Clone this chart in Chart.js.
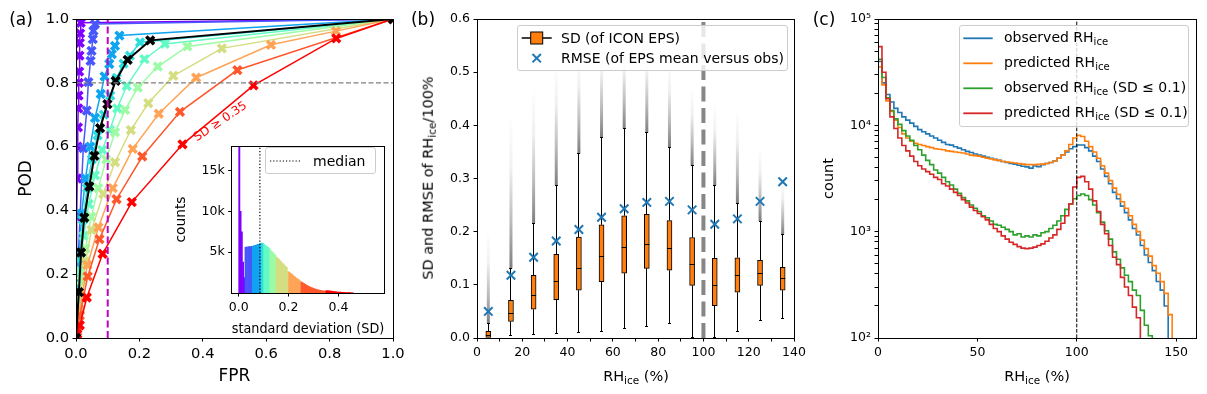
<!DOCTYPE html>
<html>
<head>
<meta charset="utf-8">
<title>ROC, spread and RHice histograms</title>
<script src="https://cdn.jsdelivr.net/npm/chart.js@4.4.1/dist/chart.umd.min.js"></script>
<style>
  body { margin: 0; background: #fff; }
  #fig { position: relative; width: 1207px; height: 394px; overflow: hidden; font-family: 'DejaVu Sans', sans-serif; color: #000; }
  #fig canvas { position: absolute; }
  .txt { position: absolute; white-space: nowrap; line-height: 1; transform: translate(-50%, -50%); }
  .lbl { position: absolute; white-space: nowrap; line-height: 1; font-size: 14px; transform: translateY(-50%); }
  .sub { font-size: 72%; position: relative; top: 0.3em; }
  .legend { position: absolute; box-sizing: border-box; background: rgba(255,255,255,0.8); border: 1px solid #cccccc; border-radius: 3px; }
  .handle { position: absolute; }
</style>
</head>
<body>
<div id="fig">
  <canvas id="rocChart" width="415" height="394" style="left:0;top:0"></canvas>
  <canvas id="sdHist" width="230" height="205" style="left:165px;top:135px"></canvas>
  <canvas id="boxChart" width="415" height="394" style="left:400px;top:0"></canvas>
  <canvas id="countChart" width="407" height="394" style="left:800px;top:0"></canvas>

  <div class="txt" style="left:21px;top:19px;font-size:17px">(a)</div>
  <div class="txt" style="left:423px;top:19px;font-size:17px">(b)</div>
  <div class="txt" style="left:824px;top:19px;font-size:17px">(c)</div>

  <div class="txt" style="left:220px;top:121px;font-size:12px;color:#ff0000;transform:translate(-50%,-50%) rotate(-34deg)">SD ≥ 0.35</div>

  <!-- inset legend -->
  <div class="legend" style="left:265px;top:147px;width:111px;height:27px"></div>
  <svg class="handle" style="left:265px;top:147px" width="40" height="27">
    <line x1="5" y1="14" x2="35" y2="14" stroke="#000" stroke-width="1.2" stroke-dasharray="1.2,2"/>
  </svg>
  <div class="lbl" style="left:313px;top:161px">median</div>

  <!-- panel (b) labels and legend -->
  <div class="txt" style="left:428px;top:178px;font-size:14.5px;transform:translate(-50%,-50%) rotate(-90deg)">SD and RMSE of RH<span class="sub">ice</span>/100%</div>
  <div class="txt" style="left:636px;top:376px;font-size:14.5px">RH<span class="sub">ice</span> (%)</div>
  <div class="legend" style="left:517px;top:25px;width:271px;height:46px"></div>
  <svg class="handle" style="left:517px;top:25px" width="40" height="46">
    <line x1="4.7" y1="13" x2="34.7" y2="13" stroke="#000" stroke-width="1.5"/>
    <rect x="13.7" y="7" width="12" height="12" fill="#ff7f0e" stroke="#000" stroke-width="1"/>
    <path d="M15.5 29 L23.9 37.4 M23.9 29 L15.5 37.4" stroke="#1f77b4" stroke-width="2" fill="none"/>
  </svg>
  <div class="lbl" style="left:561px;top:38px">SD (of ICON EPS)</div>
  <div class="lbl" style="left:561px;top:58px">RMSE (of EPS mean versus obs)</div>

  <!-- panel (c) labels and legend -->
  <div class="txt" style="left:1037px;top:376px;font-size:14.5px">RH<span class="sub">ice</span> (%)</div>
  <div class="legend" style="left:959px;top:25px;width:230px;height:102px"></div>
  <svg class="handle" style="left:959px;top:25px" width="40" height="102">
    <line x1="4.3" y1="13.3" x2="33.7" y2="13.3" stroke="#1f77b4" stroke-width="1.8"/>
    <line x1="4.3" y1="38.3" x2="33.7" y2="38.3" stroke="#ff7f0e" stroke-width="1.8"/>
    <line x1="4.3" y1="63.3" x2="33.7" y2="63.3" stroke="#2ca02c" stroke-width="1.8"/>
    <line x1="4.3" y1="88.3" x2="33.7" y2="88.3" stroke="#d62728" stroke-width="1.8"/>
  </svg>
  <div class="lbl" style="left:1004px;top:37px">observed RH<span class="sub">ice</span></div>
  <div class="lbl" style="left:1004px;top:62px">predicted RH<span class="sub">ice</span></div>
  <div class="lbl" style="left:1004px;top:87px">observed RH<span class="sub">ice</span> (SD ≤ 0.1)</div>
  <div class="lbl" style="left:1004px;top:112px">predicted RH<span class="sub">ice</span> (SD ≤ 0.1)</div>
</div>

<script>
// ---- (a) ROC curves: [FPR, POD] per SD bin, low SD (violet) to high SD (red), plus all data ----
const rocAll = [[0,0],[0.009,0.144],[0.016,0.268],[0.026,0.377],[0.042,0.475],[0.058,0.571],[0.076,0.658],[0.099,0.733],[0.125,0.806],[0.163,0.872],[0.234,0.933],[1,1]];
const rocSd1 = [[0,0],[0.002,0.38],[0.004,0.5],[0.005,0.6],[0.006,0.66],[0.007,0.72],[0.008,0.76],[0.009,0.8],[0.01,0.835],[0.011,0.885],[0.012,0.925],[0.013,0.955],[0.015,0.988],[1,1]];
const rocSd2 = [[0,0],[0.003,0.14],[0.008,0.27],[0.013,0.386],[0.023,0.595],[0.034,0.713],[0.039,0.802],[0.046,0.869],[0.049,0.9],[0.053,0.937],[0.055,0.963],[0.06,0.984],[1,1]];
const rocSd3 = [[0,0],[0.004,0.12],[0.01,0.26],[0.018,0.39],[0.03,0.5],[0.045,0.6],[0.06,0.69],[0.078,0.765],[0.09,0.82],[0.105,0.859],[0.113,0.89],[0.123,0.916],[0.137,0.948],[1,1]];
const rocSd4 = [[0,0],[0.005,0.12],[0.012,0.25],[0.022,0.37],[0.035,0.47],[0.05,0.56],[0.068,0.635],[0.088,0.7],[0.108,0.76],[0.128,0.815],[0.15,0.86],[0.17,0.885],[0.202,0.927],[1,1]];
const rocSd5 = [[0,0],[0.005,0.1],[0.012,0.21],[0.024,0.32],[0.04,0.42],[0.06,0.51],[0.083,0.59],[0.107,0.652],[0.13,0.72],[0.16,0.79],[0.216,0.874],[0.28,0.922],[1,1]];
const rocSd6 = [[0,0],[0.006,0.08],[0.016,0.18],[0.03,0.28],[0.048,0.38],[0.07,0.47],[0.095,0.56],[0.123,0.645],[0.155,0.715],[0.195,0.785],[0.258,0.851],[0.351,0.914],[1,1]];
const rocSd7 = [[0,0],[0.005,0.05],[0.015,0.14],[0.03,0.24],[0.049,0.339],[0.086,0.452],[0.123,0.551],[0.173,0.652],[0.228,0.736],[0.307,0.822],[0.46,0.908],[1,1]];
const rocSd8 = [[0,0],[0.004,0.03],[0.012,0.09],[0.036,0.229],[0.071,0.347],[0.116,0.47],[0.179,0.593],[0.261,0.703],[0.379,0.816],[0.615,0.919],[0.82,0.962],[1,1]];
const rocSd9 = [[0,0],[0.004,0.02],[0.012,0.07],[0.037,0.193],[0.074,0.31],[0.128,0.435],[0.209,0.569],[0.328,0.709],[0.509,0.84],[1,1]];
const rocSd10 = [[0,0],[0.004,0.012],[0.012,0.04],[0.034,0.127],[0.084,0.264],[0.176,0.426],[0.336,0.607],[0.56,0.792],[0.821,0.939],[1,1]];
const podRef = 0.8;
const fprRef = 0.1;
const rocTicks = [0, 0.2, 0.4, 0.6, 0.8, 1.0];
const rocTickLabels = ['0.0', '0.2', '0.4', '0.6', '0.8', '1.0'];

// inset: histogram of SD, bins of 0.005 starting at 0
const sdHistWidth = 0.005;
const sdHistCounts = [
  22000, 10000, 7500, 3800, 1900,
  5600, 5650, 5600, 5700, 5650, 5700,
  5750, 5800, 5850, 5900, 5950, 6000, 6050,
  6100, 6050,
  5950, 5850, 5700, 5600, 5450,
  5300, 5100, 4950, 4800, 4600,
  4400, 4250, 4100, 3950, 3800, 3600, 3450, 3300, 3150, 2650,
  2550, 2450, 2350, 2200, 2050, 1950, 1800, 1700, 1600, 1450,
  1350, 1250, 1150, 1050, 950, 870, 800, 720, 650, 600, 540, 490, 440, 400, 360, 330, 300, 270, 240, 220,
  300, 280, 260, 240, 220, 200, 180, 160, 140, 120, 110, 100, 90, 80, 70, 60, 50, 50, 40, 40, 30, 30
];
const sdBinEdges = [0, 0.025, 0.055, 0.09, 0.1, 0.125, 0.15, 0.2, 0.25, 0.35];
const sdMedian = 0.085;
const sdTicks = [0, 0.2, 0.4];
const sdTickLabels = ['0.0', '0.2', '0.4'];
const sdCountTicks = [5000, 10000, 15000];
const sdCountTickLabels = ['5k', '10k', '15k'];

// ---- (b) SD box statistics and RMSE per 10 % RHice bin ----
const rhCenters = [5, 15, 25, 35, 45, 55, 65, 75, 85, 95, 105, 115, 125, 135];
const sdWhiskLo = [0.0, 0.004, 0.0075, 0.009, 0.011, 0.013, 0.018, 0.022, 0.028, 0.001, 0.001, 0.0125, 0.033, 0.036];
const sdQ1 = [0.0, 0.031, 0.054, 0.072, 0.09, 0.106, 0.122, 0.131, 0.1275, 0.099, 0.061, 0.086, 0.099, 0.09];
const sdMed = [0.004, 0.047, 0.079, 0.106, 0.131, 0.153, 0.171, 0.176, 0.169, 0.139, 0.099, 0.117, 0.122, 0.111];
const sdQ3 = [0.0125, 0.071, 0.118, 0.1575, 0.19, 0.213, 0.23, 0.2325, 0.221, 0.189, 0.15, 0.151, 0.146, 0.133];
const sdWhiskHi = [0.028, 0.131, 0.216, 0.2875, 0.347, 0.3775, 0.394, 0.386, 0.359, 0.324, 0.2875, 0.253, 0.22, 0.194];
const sdFlierTop = [0.2, 0.42, 0.47, 0.52, 0.54, 0.56, 0.56, 0.56, 0.52, 0.47, 0.44, 0.43, 0.36, 0.3];
const rmse = [0.05, 0.118, 0.152, 0.1825, 0.204, 0.227, 0.243, 0.255, 0.257, 0.241, 0.214, 0.224, 0.257, 0.294];
const rhRef = 100;
const rhTicks = [0, 10, 20, 30, 40, 50, 60, 70, 80, 90, 100, 110, 120, 130, 140];
const rhTickLabels = ['0', '', '20', '', '40', '', '60', '', '80', '', '100', '', '120', '', '140'];
const spreadTicks = [0, 0.1, 0.2, 0.3, 0.4, 0.5, 0.6];
const spreadTickLabels = ['0.0', '0.1', '0.2', '0.3', '0.4', '0.5', '0.6'];

// ---- (c) RHice histograms, bins of 2 % starting at 0 ----
const rhBinWidth = 2;
const obsCounts = [
  39800, 25100, 19500, 16600, 14450, 13200, 12000, 11200, 10500, 9770,
  9120, 8710, 8320, 7940, 7590, 7240, 6920, 6610, 6520, 6280,
  6100, 5890, 5690, 5560, 5370, 5250, 5130, 5010, 4900, 4790,
  4680, 4570, 4470, 4370, 4320, 4220, 4120, 4070, 3960, 4150,
  4090, 4270, 4370, 4470, 4620, 4900, 5250, 5620, 6030, 6310,
  6530, 6530, 6170, 5750, 5130, 4570, 3890, 3310, 2820, 2340,
  2040, 1740, 1510, 1290, 1070, 930, 740, 603, 513, 430,
  340, 282, 200, 80, 30
];
const predCounts = [
  35500, 24000, 17000, 13500, 11200, 9550, 8320, 7590, 7080, 6760,
  6610, 6460, 6310, 6170, 6030, 5960, 5890, 5750, 5690, 5620,
  5560, 5500, 5370, 5250, 5190, 5130, 5010, 4900, 4840, 4730,
  4680, 4570, 4520, 4470, 4420, 4370, 4320, 4270, 4270, 4270,
  4290, 4320, 4370, 4470, 4620, 4900, 5250, 5750, 6610, 7590,
  8040, 7850, 7080, 6310, 5620, 4900, 4170, 3550, 3020, 2570,
  2240, 1910, 1660, 1410, 1170, 1000, 832, 692, 589, 479,
  407, 339, 263, 166, 40
];
const obsLowSdCounts = [
  41700, 28200, 18200, 13800, 11500, 10200, 8910, 7940, 7240, 6460,
  5890, 5250, 4680, 4270, 3800, 3550, 3240, 2950, 2750, 2510,
  2290, 2090, 1950, 1780, 1660, 1550, 1410, 1350, 1260, 1170,
  1150, 1100, 1050, 1000, 933, 955, 891, 912, 891, 933,
  912, 977, 1000, 1070, 1150, 1260, 1410, 1620, 1820, 2040,
  2190, 2260, 2190, 2000, 1780, 1510, 1230, 1020, 851, 646,
  550, 457, 389, 339, 282, 251, 182, 132, 105, 60,
  30, 10, 5, 2, 1
];
const predLowSdCounts = [
  55000, 31600, 17800, 12000, 9330, 7590, 6460, 5750, 5130, 4570,
  4170, 3890, 3670, 3470, 3240, 3090, 2820, 2690, 2510, 2340,
  2190, 2000, 1860, 1700, 1580, 1480, 1380, 1290, 1170, 1070,
  1000, 912, 851, 794, 759, 724, 700, 692, 700, 716,
  741, 767, 813, 871, 933, 1050, 1200, 1410, 1820, 2630,
  3240, 3310, 2950, 2510, 1950, 1550, 1170, 955, 741, 575,
  490, 372, 302, 251, 195, 155, 90, 40, 20, 10,
  5, 2, 1, 1, 1
];
const rhHistTicks = [0, 50, 100, 150];
const rhHistTickLabels = ['0', '50', '100', '150'];
const powerLabels = { 2: '10²', 3: '10³', 4: '10⁴', 5: '10⁵' };

// rainbow colours, one per SD bin
const sdColors = ['#8000ff', '#4757fb', '#0ea4f0', '#2bdddd', '#63fbc3', '#9cfba4', '#d4dd80', '#ffa457', '#ff572c', '#ff0000'];

Chart.defaults.font.family = "'DejaVu Sans', sans-serif";
Chart.defaults.color = '#000';
Chart.defaults.animation = false;

const al = p => Math.round(p - 0.5) + 0.5;

const framePlugin = {
  id: 'frame',
  beforeDraw(chart, args, opts) {
    if (!opts.fill) return;
    const a = chart.chartArea, ctx = chart.ctx;
    ctx.save();
    ctx.fillStyle = opts.fill;
    ctx.fillRect(a.left, a.top, a.right - a.left, a.bottom - a.top);
    ctx.restore();
  },
  afterDraw(chart) {
    const a = chart.chartArea, ctx = chart.ctx;
    ctx.save();
    ctx.strokeStyle = '#000';
    ctx.lineWidth = 1;
    ctx.strokeRect(al(a.left), al(a.top), al(a.right) - al(a.left), al(a.bottom) - al(a.top));
    ctx.restore();
  }
};

function makeAxis(pos, range, ticks, labels, fontSize, thickness, title, type) {
  const horizontal = pos === 'bottom';
  return {
    type: type || 'linear',
    position: pos,
    min: range[0],
    max: range[1],
    offset: false,
    afterBuildTicks: s => { s.ticks = ticks.map(v => ({ value: v })); },
    afterFit: s => { if (horizontal) s.height = thickness; else s.width = thickness; },
    ticks: {
      autoSkip: false, maxRotation: 0, minRotation: 0, padding: 3.5, color: '#000',
      font: { size: fontSize },
      callback: (v, i) => typeof labels === 'function' ? labels(v) : labels[i]
    },
    grid: { offset: false, drawOnChartArea: false, drawTicks: true, tickLength: 3.5, tickColor: '#000', tickWidth: 1 },
    border: { display: false },
    title: title ? {
      display: true, text: title.text, color: '#000', font: { size: title.size },
      padding: horizontal ? { top: 0, bottom: title.pad } : { top: title.pad, bottom: 0 }
    } : { display: false }
  };
}

function baseOptions(padding, scales, extra) {
  return {
    responsive: false,
    animation: false,
    layout: { padding },
    plugins: Object.assign({ legend: { display: false }, tooltip: { enabled: false } }, extra || {}),
    scales
  };
}

// ---- (a) ROC ----
function rocSet(points, color, order, width) {
  return {
    data: points.map(p => ({ x: p[0], y: p[1] })),
    borderColor: color, backgroundColor: color, borderWidth: width,
    pointStyle: 'crossRot', pointRadius: 5.5, pointBorderWidth: 3.6,
    pointBorderColor: color, pointBackgroundColor: color, tension: 0, order
  };
}
const rocBins = [rocSd1, rocSd2, rocSd3, rocSd4, rocSd5, rocSd6, rocSd7, rocSd8, rocSd9, rocSd10];
const rocDatasets = rocBins.map((pts, k) => rocSet(pts, sdColors[k], 11 - k, 1.5));
rocDatasets.push(rocSet(rocAll, '#000', 0, 2));
rocDatasets.push({ data: [{ x: 0, y: podRef }, { x: 1, y: podRef }], borderColor: '#808080', borderWidth: 1.2, borderDash: [5, 2.5], pointRadius: 0, order: -1 });
rocDatasets.push({ data: [{ x: fprRef, y: 0 }, { x: fprRef, y: 1 }], borderColor: '#bf00bf', borderWidth: 2, borderDash: [7, 3.5], pointRadius: 0, order: -1 });

new Chart(document.getElementById('rocChart'), {
  type: 'line',
  data: { datasets: rocDatasets },
  options: baseOptions({ top: 19, right: 22, bottom: 0, left: 0 }, {
    x: makeAxis('bottom', [0, 1], rocTicks, rocTickLabels, 14.7, 56, { text: 'FPR', size: 17, pad: 6.8 }),
    y: makeAxis('left', [0, 1], rocTicks, rocTickLabels, 14.7, 76, { text: 'POD', size: 17, pad: 16.8 })
  }),
  plugins: [framePlugin]
});

// inset histogram
function sdColor(v) {
  let k = 0;
  sdBinEdges.forEach((e, j) => { if (v >= e - 1e-9) k = j; });
  return sdColors[k];
}
new Chart(document.getElementById('sdHist'), {
  type: 'bar',
  data: {
    datasets: [
      { type: 'line', data: [{ x: sdMedian, y: 0 }, { x: sdMedian, y: 18000 }], borderColor: '#000', borderWidth: 1.2, borderDash: [1.2, 2], pointRadius: 0, order: 0 },
      {
        data: sdHistCounts.map((c, i) => ({ x: (i + 0.5) * sdHistWidth, y: c })),
        backgroundColor: sdHistCounts.map((c, i) => sdColor(i * sdHistWidth)),
        borderWidth: 0, barPercentage: 1, categoryPercentage: 1, order: 1
      }
    ]
  },
  options: baseOptions({ top: 5, right: 10.7, bottom: 0, left: 0 }, {
    x: makeAxis('bottom', [-0.028, 0.584], sdTicks, sdTickLabels, 12.5, 47, { text: 'standard deviation (SD)', size: 13.8, pad: 2.3 }),
    y: makeAxis('left', [0, 18000], sdCountTicks, sdCountTickLabels, 12.5, 66.7, { text: 'counts', size: 13.8, pad: 8.6 })
  }, { frame: { fill: '#fff' } }),
  plugins: [framePlugin]
});

// ---- (b) box plots of SD with RMSE ----
const boxPlugin = {
  id: 'boxParts',
  beforeDatasetsDraw(chart) {
    const { ctx, chartArea: a, scales: { x, y } } = chart;
    ctx.save();
    ctx.beginPath();
    ctx.rect(a.left, a.top, a.right - a.left, a.bottom - a.top);
    ctx.clip();
    rhCenters.forEach((rh, i) => {
      const px = x.getPixelForValue(rh);
      const y0 = y.getPixelForValue(sdWhiskHi[i]);
      const y1 = y.getPixelForValue(sdFlierTop[i]);
      const g = ctx.createLinearGradient(0, y0, 0, y1);
      g.addColorStop(0, 'rgba(40,40,40,0.6)');
      g.addColorStop(0.3, 'rgba(40,40,40,0.32)');
      g.addColorStop(0.65, 'rgba(40,40,40,0.07)');
      g.addColorStop(1, 'rgba(40,40,40,0)');
      ctx.fillStyle = g;
      ctx.fillRect(px - 1.5, y1, 3, y0 - y1);
    });
    ctx.strokeStyle = '#000';
    ctx.lineWidth = 1;
    rhCenters.forEach((rh, i) => {
      const px = al(x.getPixelForValue(rh));
      const lo = y.getPixelForValue(sdWhiskLo[i]), q1 = y.getPixelForValue(sdQ1[i]);
      const q3 = y.getPixelForValue(sdQ3[i]), hi = y.getPixelForValue(sdWhiskHi[i]);
      ctx.beginPath();
      ctx.moveTo(px, lo); ctx.lineTo(px, q1);
      ctx.moveTo(px, q3); ctx.lineTo(px, hi);
      ctx.moveTo(px - 1.5, al(lo)); ctx.lineTo(px + 1.5, al(lo));
      ctx.moveTo(px - 1.5, al(hi)); ctx.lineTo(px + 1.5, al(hi));
      ctx.stroke();
    });
    ctx.restore();
  },
  afterDatasetDraw(chart, args) {
    if (args.index !== 1) return;
    const { ctx, scales: { x, y } } = chart;
    ctx.save();
    ctx.strokeStyle = '#000';
    ctx.lineWidth = 1;
    rhCenters.forEach((rh, i) => {
      const px = x.getPixelForValue(rh);
      const py = al(y.getPixelForValue(sdMed[i]));
      ctx.beginPath();
      ctx.moveTo(px - 2.5, py); ctx.lineTo(px + 2.5, py);
      ctx.stroke();
    });
    ctx.restore();
  }
};

new Chart(document.getElementById('boxChart'), {
  type: 'bar',
  data: {
    datasets: [
      {
        type: 'scatter', data: rhCenters.map((rh, i) => ({ x: rh, y: rmse[i] })),
        pointStyle: 'crossRot', pointRadius: 6, pointBorderWidth: 2,
        borderColor: '#1f77b4', backgroundColor: '#1f77b4', order: 0
      },
      {
        type: 'bar', data: rhCenters.map((rh, i) => ({ x: rh, y: [sdQ1[i], sdQ3[i]] })),
        backgroundColor: '#ff7f0e', borderColor: '#000', borderWidth: 1, borderSkipped: false,
        barThickness: 5, order: 1
      },
      {
        type: 'line', data: [{ x: rhRef, y: 0 }, { x: rhRef, y: 0.6 }],
        borderColor: 'rgba(128,128,128,0.95)', borderWidth: 4, borderDash: [15, 6.5], pointRadius: 0, order: 2
      }
    ]
  },
  options: baseOptions({ top: 19, right: 21, bottom: 0, left: 0 }, {
    x: makeAxis('bottom', [0, 140], rhTicks, rhTickLabels, 12.5, 56),
    y: makeAxis('left', [0, 0.6], spreadTicks, spreadTickLabels, 12.5, 77)
  }),
  plugins: [boxPlugin, framePlugin]
});

// ---- (c) step histograms, log count ----
function stepSet(counts, color, order) {
  const pts = counts.map((c, i) => ({ x: i * rhBinWidth, y: c }));
  pts.push({ x: counts.length * rhBinWidth, y: 1 });
  return { data: pts, borderColor: color, borderWidth: 1.6, stepped: true, pointRadius: 0, order };
}
const countTicks = [];
[100, 1000, 10000].forEach(d => { for (let m = 1; m <= 9; m++) countTicks.push(m * d); });
countTicks.push(100000);
const countLabel = v => {
  const lg = Math.log10(v);
  return Math.abs(lg - Math.round(lg)) < 1e-9 ? powerLabels[Math.round(lg)] : '';
};

new Chart(document.getElementById('countChart'), {
  type: 'line',
  data: {
    datasets: [
      stepSet(obsCounts, '#1f77b4', 4),
      stepSet(predCounts, '#ff7f0e', 3),
      stepSet(obsLowSdCounts, '#2ca02c', 2),
      stepSet(predLowSdCounts, '#d62728', 1),
      { data: [{ x: rhRef, y: 100 }, { x: rhRef, y: 100000 }], borderColor: '#000', borderWidth: 1, borderDash: [3.7, 1.6], pointRadius: 0, order: 0 }
    ]
  },
  options: baseOptions({ top: 19, right: 11, bottom: 0, left: 0 }, {
    x: makeAxis('bottom', [0, 160], rhHistTicks, rhHistTickLabels, 12.5, 56),
    y: makeAxis('left', [100, 100000], countTicks, countLabel, 12.5, 78, { text: 'count', size: 14.5, pad: 20.6 }, 'logarithmic')
  }),
  plugins: [framePlugin]
});
</script>
</body>
</html>
